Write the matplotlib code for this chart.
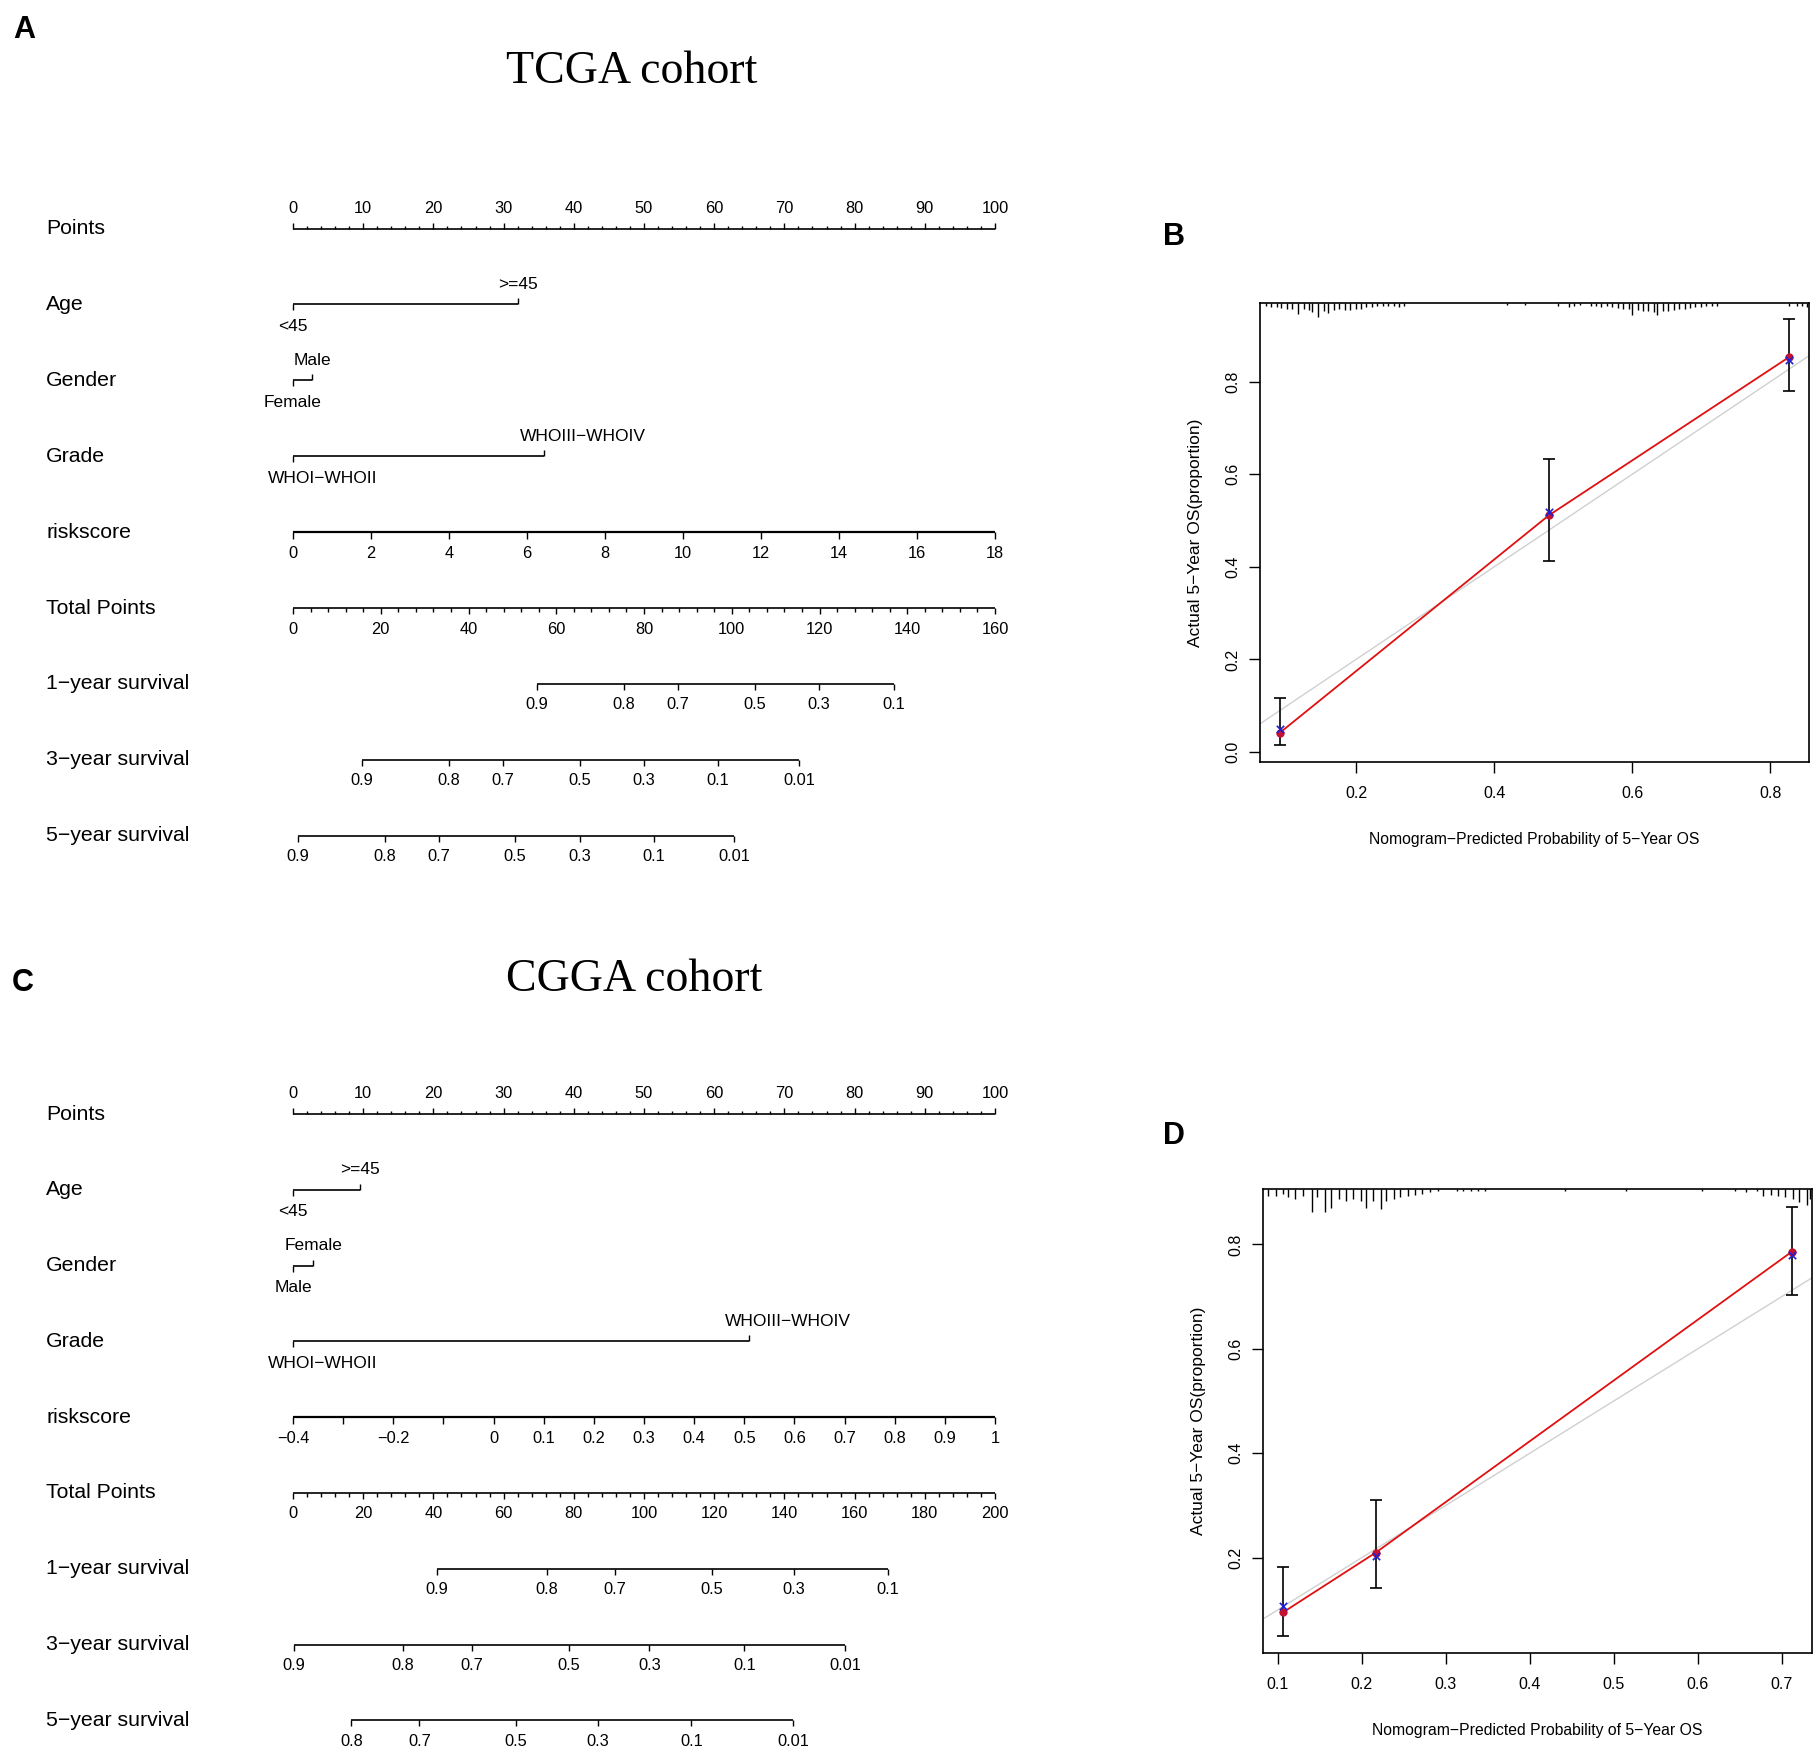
import numpy as np
import matplotlib
matplotlib.use("Agg")
import matplotlib.pyplot as plt
from matplotlib.ticker import FormatStrFormatter
from matplotlib.transforms import blended_transform_factory

plt.rcParams['font.family'] = ['Liberation Sans', 'DejaVu Sans']

# ---------------- data ----------------
row_names = ["Points", "Age", "Gender", "Grade", "riskscore", "Total Points",
             "1\u2212year survival", "3\u2212year survival", "5\u2212year survival"]

# A: TCGA nomogram (values in points / total points)
tcga_age = ["<45", ">=45"]
tcga_age_pts = [0, 32.0]
tcga_gender = ["Female", "Male"]
tcga_gender_pts = [0, 2.7]
tcga_grade = ["WHOI\u2212WHOII", "WHOIII\u2212WHOIV"]
tcga_grade_pts = [0, 35.8]
tcga_risk_ticks = [0, 2, 4, 6, 8, 10, 12, 14, 16, 18]
tcga_risk_range = (0, 18)
tcga_total_max = 160
tcga_s1 = [0.9, 0.8, 0.7, 0.5, 0.3, 0.1]
tcga_s1_tot = [55.6, 75.4, 87.8, 105.3, 119.8, 136.9]
tcga_s3 = [0.9, 0.8, 0.7, 0.5, 0.3, 0.1, 0.01]
tcga_s3_tot = [15.7, 35.5, 47.8, 65.4, 80.0, 96.9, 115.4]
tcga_s5 = [0.9, 0.8, 0.7, 0.5, 0.3, 0.1, 0.01]
tcga_s5_tot = [1.1, 20.9, 33.2, 50.6, 65.4, 82.3, 100.6]

# C: CGGA nomogram
cgga_age = ["<45", ">=45"]
cgga_age_pts = [0, 9.5]
cgga_gender = ["Male", "Female"]
cgga_gender_pts = [0, 2.9]
cgga_grade = ["WHOI\u2212WHOII", "WHOIII\u2212WHOIV"]
cgga_grade_pts = [0, 64.9]
cgga_risk_ticks = [-0.4, -0.3, -0.2, -0.1, 0, 0.1, 0.2, 0.3, 0.4, 0.5, 0.6, 0.7, 0.8, 0.9, 1]
cgga_risk_hidden = [-0.3, -0.1]
cgga_risk_range = (-0.4, 1)
cgga_total_max = 200
cgga_s1 = [0.9, 0.8, 0.7, 0.5, 0.3, 0.1]
cgga_s1_tot = [41.0, 72.4, 91.8, 119.4, 142.7, 169.5]
cgga_s3 = [0.9, 0.8, 0.7, 0.5, 0.3, 0.1, 0.01]
cgga_s3_tot = [0.2, 31.2, 50.9, 78.5, 101.5, 128.6, 157.3]
cgga_s5 = [0.8, 0.7, 0.5, 0.3, 0.1, 0.01]
cgga_s5_tot = [16.6, 36.0, 63.6, 86.9, 113.5, 142.5]

# B: TCGA calibration
b_pred = np.array([0.090, 0.479, 0.827])
b_obs = np.array([0.042, 0.511, 0.853])
b_corr = np.array([0.050, 0.519, 0.846])
b_lo = np.array([0.016, 0.413, 0.780])
b_hi = np.array([0.117, 0.634, 0.935])
b_rug_x = [0.069, 0.077, 0.085, 0.092, 0.100, 0.108, 0.116, 0.124, 0.132, 0.137,
           0.145, 0.153, 0.160, 0.168, 0.176, 0.184, 0.192, 0.200, 0.207, 0.215,
           0.223, 0.231, 0.239, 0.247, 0.255, 0.262, 0.270,
           0.419, 0.445, 0.493, 0.508, 0.516, 0.524, 0.540, 0.547, 0.555, 0.563,
           0.571, 0.579, 0.587, 0.595, 0.600, 0.608, 0.615, 0.623, 0.631, 0.636,
           0.644, 0.652, 0.660, 0.668, 0.676, 0.683, 0.691, 0.699, 0.707, 0.715,
           0.723, 0.827, 0.838, 0.846, 0.853]
b_rug_h = [0.2, 0.3, 0.3, 0.35, 0.45, 0.45, 0.8, 0.4, 0.5, 0.65,
           1.0, 0.6, 0.7, 0.5, 0.45, 0.5, 0.5, 0.45, 0.4, 0.3,
           0.3, 0.25, 0.25, 0.2, 0.25, 0.3, 0.2,
           0.15, 0.15, 0.2, 0.3, 0.2, 0.15, 0.25, 0.2, 0.3, 0.25,
           0.3, 0.35, 0.4, 0.4, 0.9, 0.5, 0.6, 0.55, 0.65, 0.9,
           0.6, 0.55, 0.5, 0.45, 0.4, 0.35, 0.3, 0.3, 0.25, 0.2,
           0.2, 0.2, 0.25, 0.2, 0.3]

# D: CGGA calibration
d_pred = np.array([0.107, 0.217, 0.712])
d_obs = np.array([0.096, 0.210, 0.786])
d_corr = np.array([0.108, 0.203, 0.780])
d_lo = np.array([0.050, 0.142, 0.703])
d_hi = np.array([0.182, 0.310, 0.872])
d_rug_x = [0.089, 0.098, 0.106, 0.113, 0.121, 0.130, 0.141, 0.147, 0.156, 0.164,
           0.173, 0.182, 0.190, 0.199, 0.205, 0.214, 0.223, 0.229, 0.238, 0.246,
           0.255, 0.263, 0.272, 0.281, 0.291, 0.313, 0.321, 0.330, 0.339, 0.347,
           0.442, 0.515, 0.605, 0.644, 0.657, 0.670, 0.678, 0.687, 0.696, 0.704,
           0.713, 0.721, 0.730, 0.734]
d_rug_h = [0.3, 0.3, 0.2, 0.35, 0.45, 0.3, 1.0, 0.35, 1.0, 0.8,
           0.45, 0.5, 0.45, 0.5, 0.8, 0.5, 0.85, 0.5, 0.45, 0.35,
           0.3, 0.25, 0.2, 0.15, 0.1, 0.1, 0.1, 0.1, 0.1, 0.1,
           0.08, 0.08, 0.08, 0.1, 0.15, 0.1, 0.3, 0.25, 0.3, 0.35,
           0.45, 0.55, 0.7, 0.45]

# ---------------- figure ----------------
W, H = 1817, 1754
fig = plt.figure(figsize=(W / 100, H / 100), dpi=100)

X0, X100 = 293, 995          # pixel x of 0 and 100 points
k = (X100 - X0) / 100.0
nom = fig.add_axes([0, 0, 1, 1])
nom.set_xlim(-X0 / k, (W - X0) / k)
nom.set_ylim(H, 0)
nom.axis('off')
nom.patch.set_visible(False)

LW = 1.2
TXT = 11.8
LEV = 12.5


def fmt(v):
    return f"{v:g}".replace('-', '\u2212')


def scale_row(y, pos, labels, up=False, minor=None, lw=LW, major_len=6, minor_len=3):
    d = -1 if up else 1
    nom.plot([pos[0], pos[-1]], [y, y], color='k', lw=lw, solid_capstyle='butt')
    nom.vlines(pos, y, y + d * major_len, color='k', lw=1.0)
    if minor is not None:
        nom.vlines(minor, y, y + d * minor_len, color='k', lw=1.0)
    gap = 20 if up else 21
    for p, lab in zip(pos, labels):
        if lab:
            nom.text(p, y + d * gap, lab, ha='center', va='center', fontsize=TXT)


def factor_row(y, pos, names, dx=(0, 0)):
    nom.plot([pos[0], pos[1]], [y, y], color='k', lw=LW, solid_capstyle='butt')
    nom.vlines([pos[0]], y, y + 6, color='k', lw=1.0)
    nom.vlines([pos[1]], y, y - 6, color='k', lw=1.0)
    nom.annotate(names[0], (pos[0], y), xytext=(dx[0], -22), textcoords='offset pixels',
                 ha='center', va='center', fontsize=LEV)
    nom.annotate(names[1], (pos[1], y), xytext=(dx[1], 20), textcoords='offset pixels',
                 ha='center', va='center', fontsize=LEV)


def nomogram(y0, step, age, age_pts, gender, gender_pts, grade, grade_pts,
             risk_ticks, risk_range, risk_hidden, total_max,
             surv, surv_tot):
    ys = [y0 + i * step for i in range(9)]
    for y, name in zip(ys, row_names):
        fig.text(46 / W, 1 - y / H, name, ha='left', va='center', fontsize=15.3)
    # points
    pts_major = np.arange(0, 101, 10)
    pts_minor = [p for p in np.arange(0, 101, 2) if p % 10]
    scale_row(ys[0], pts_major, [fmt(p) for p in pts_major], up=True, minor=pts_minor)
    factor_row(ys[1], age_pts, age)
    factor_row(ys[2], gender_pts, gender)
    factor_row(ys[3], grade_pts, grade, dx=(30, 39))
    lo, hi = risk_range
    rpos = [(v - lo) / (hi - lo) * 100 for v in risk_ticks]
    rlab = ["" if v in risk_hidden else fmt(v) for v in risk_ticks]
    scale_row(ys[4], rpos, rlab, lw=1.6, major_len=7)
    tot_major = np.arange(0, total_max + 1, 20)
    tot_minor = [t for t in np.arange(0, total_max + 1, 4) if t % 20]
    f = 100.0 / total_max
    scale_row(ys[5], tot_major * f, [fmt(t) for t in tot_major],
              minor=[t * f for t in tot_minor], major_len=6, minor_len=4)
    for i, (lv, tt) in enumerate(zip(surv, surv_tot)):
        scale_row(ys[6 + i], [t * f for t in tt], [fmt(v) for v in lv])


nomogram(228.5, 75.9, tcga_age, tcga_age_pts, tcga_gender, tcga_gender_pts,
         tcga_grade, tcga_grade_pts, tcga_risk_ticks, tcga_risk_range, [],
         tcga_total_max, [tcga_s1, tcga_s3, tcga_s5],
         [tcga_s1_tot, tcga_s3_tot, tcga_s5_tot])
nomogram(1114, 75.8, cgga_age, cgga_age_pts, cgga_gender, cgga_gender_pts,
         cgga_grade, cgga_grade_pts, cgga_risk_ticks, cgga_risk_range, cgga_risk_hidden,
         cgga_total_max, [cgga_s1, cgga_s3, cgga_s5],
         [cgga_s1_tot, cgga_s3_tot, cgga_s5_tot])

fig.text(632 / W, 1 - 72 / H, "TCGA cohort", family='Liberation Serif', fontsize=33,
         ha='center', va='center')
fig.text(634 / W, 1 - 980 / H, "CGGA cohort", family='Liberation Serif', fontsize=33,
         ha='center', va='center')

for lab, x, y in [("A", 24, 30), ("B", 1174, 237), ("C", 23, 983), ("D", 1174, 1136)]:
    fig.text(x / W, 1 - y / H, lab, fontsize=22, fontweight='bold', ha='center', va='center')


def calib(box, pred, obs, corr, lo, hi, rug_x, rug_h, rug_len, xlim, ylim, xticks, yticks):
    l, t, r, b = box
    ax = fig.add_axes([l / W, 1 - b / H, (r - l) / W, (b - t) / H])
    ax.axline((0, 0), slope=1, color='#d0d0d0', lw=1.0, zorder=1)
    ax.errorbar(pred, obs, yerr=[obs - lo, hi - obs], fmt='none', ecolor='k',
                elinewidth=1.2, capsize=4, capthick=1.2, zorder=2)
    ax.plot(pred, obs, color='#e01010', lw=1.3, zorder=3)
    ax.scatter(pred, obs, s=36, color='#c41230', zorder=4, linewidths=0)
    ax.scatter(pred, corr, marker='x', s=28, color='#2020d0', linewidths=1.2, zorder=5)
    tr = blended_transform_factory(ax.transData, ax.transAxes)
    ax.vlines(rug_x, 1, 1 - np.array(rug_h) * rug_len, transform=tr, color='k', lw=1.0)
    ax.set_xlim(xlim)
    ax.set_ylim(ylim)
    ax.set_xticks(xticks)
    ax.set_yticks(yticks)
    ax.xaxis.set_major_formatter(FormatStrFormatter('%.1f'))
    ax.yaxis.set_major_formatter(FormatStrFormatter('%.1f'))
    ax.tick_params(length=8, width=1.0, labelsize=11.5, direction='out')
    ax.tick_params(axis='x', pad=9)
    ax.tick_params(axis='y', pad=6)
    plt.setp(ax.get_yticklabels(), rotation=90, va='center')
    for s in ax.spines.values():
        s.set_linewidth(1.2)
    ax.set_xlabel("Nomogram\u2212Predicted Probability of 5\u2212Year OS", fontsize=11.3)
    ax.set_ylabel("Actual 5\u2212Year OS(proportion)", fontsize=12.5)
    ax.xaxis.label.set_va('center')
    ax.yaxis.label.set_va('center')
    ax.xaxis.set_label_coords(0.5, -78 / (b - t))
    ax.yaxis.set_label_coords(-65 / (r - l), 0.5)
    return ax


calib((1260, 303, 1809, 762), b_pred, b_obs, b_corr, b_lo, b_hi, b_rug_x, b_rug_h, 0.03,
      (0.061, 0.856), (-0.0215, 0.970), [0.2, 0.4, 0.6, 0.8], [0.0, 0.2, 0.4, 0.6, 0.8])
calib((1263, 1189, 1812, 1653), d_pred, d_obs, d_corr, d_lo, d_hi, d_rug_x, d_rug_h, 0.05,
      (0.0827, 0.736), (0.0177, 0.906), [0.1, 0.2, 0.3, 0.4, 0.5, 0.6, 0.7],
      [0.2, 0.4, 0.6, 0.8])

fig.savefig("out.png", dpi=100)
